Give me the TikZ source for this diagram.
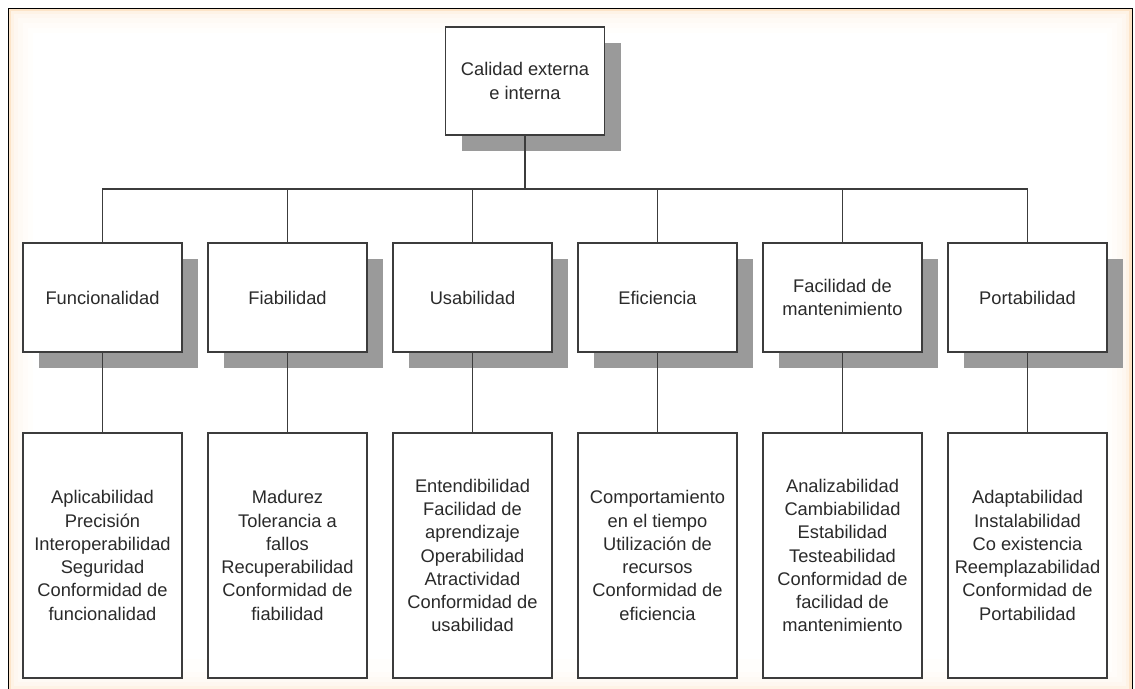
\documentclass[tikz,border=0pt]{standalone}
\usepackage{fontspec}
\setmainfont{Liberation Sans}
\usetikzlibrary{shadows}
\definecolor{boxline}{HTML}{3C3C3C}
\definecolor{shade}{HTML}{9A9A9A}
\definecolor{peach}{HTML}{FCE4C8}
\definecolor{txt}{HTML}{2A2A2A}
\tikzset{
  lbl/.style={font=\fontsize{18.3}{23.3}\selectfont, text=txt, align=center},
  topbox/.style={lbl, draw=boxline, line width=1.5pt, fill=white, minimum width=159pt, minimum height=108pt, inner sep=0pt,
     drop shadow={shadow xshift=16pt, shadow yshift=-16pt, fill=shade, opacity=1}},
  midbox/.style={topbox, minimum height=109pt},
  lowbox/.style={lbl, draw=boxline, line width=1.5pt, fill=white, minimum width=159pt, minimum height=245pt, inner sep=0pt},
  conn/.style={draw=boxline, line width=1.6pt}
}
\begin{document}
\begin{tikzpicture}[x=1pt,y=-1pt]
\useasboundingbox (0,0) rectangle (1135,688);
\fill[white] (0,0) rectangle (1135,688);
% frame with peach inner fade
\foreach \i/\c in {0/100,3/45,6/28,10/18,15/10,20/5}{
  \fill[peach!\c!white] ({8+\i},{8+\i}) rectangle ({1132-\i},{692-\i});
}
\fill[white] (33,33) rectangle (1107,659);
\draw[black, line width=1pt] (8,710) -- (8,8) -- (1132,8) -- (1132,710);
% top
\node[topbox] (top) at (525,81) {Calidad externa\\e interna};
% mid
\node[midbox] (f1) at (102.5,297.5) {Funcionalidad};
\node[midbox] (f2) at (287.5,297.5) {Fiabilidad};
\node[midbox] (f3) at (472.5,297.5) {Usabilidad};
\node[midbox] (f4) at (657.5,297.5) {Eficiencia};
\node[midbox] (f5) at (842.5,297.5) {Facilidad de\\mantenimiento};
\node[midbox] (f6) at (1027.5,297.5) {Portabilidad};
% low
\node[lowbox] (c1) at (102.5,555.5) {Aplicabilidad\\Precisión\\Interoperabilidad\\Seguridad\\Conformidad de\\funcionalidad};
\node[lowbox] (c2) at (287.5,555.5) {Madurez\\Tolerancia a\\fallos\\Recuperabilidad\\Conformidad de\\fiabilidad};
\node[lowbox] (c3) at (472.5,555.5) {Entendibilidad\\Facilidad de\\aprendizaje\\Operabilidad\\Atractividad\\Conformidad de\\usabilidad};
\node[lowbox] (c4) at (657.5,555.5) {Comportamiento\\en el tiempo\\Utilización de\\recursos\\Conformidad de\\eficiencia};
\node[lowbox] (c5) at (842.5,555.5) {Analizabilidad\\Cambiabilidad\\Estabilidad\\Testeabilidad\\Conformidad de\\facilidad de\\mantenimiento};
\node[lowbox] (c6) at (1027.5,555.5) {Adaptabilidad\\Instalabilidad\\Co existencia\\Reemplazabilidad\\Conformidad de\\Portabilidad};
% connectors
\coordinate (bus) at (525,189);
\draw[conn] (top.south) -- (bus);
\draw[conn] (f1.north) -- (f1.north |- bus) -- (f6.north |- bus) -- (f6.north);
\foreach \k in {2,3,4,5}{
  \draw[conn] (f\k.north) -- (f\k.north |- bus);
}
\foreach \k in {1,...,6}{
  \draw[conn] (f\k.south) -- (c\k.north);
}
\end{tikzpicture}
\end{document}
